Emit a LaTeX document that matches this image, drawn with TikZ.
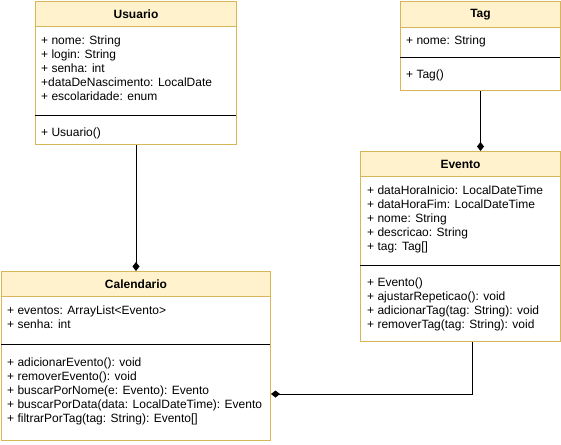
\documentclass[tikz,border=0pt]{standalone}
\usepackage{fontspec}
\setmainfont{Liberation Sans}
\usepackage{tikz}
\usetikzlibrary{arrows.meta,positioning}
\definecolor{classfill}{HTML}{FFF2CC}
\definecolor{classline}{HTML}{D6B656}
\tikzset{classbox/.style={draw=classline, fill=white, line width=1pt, rectangle, inner sep=0pt, anchor=north west},
         classhead/.style={classbox, fill=classfill, font=\bfseries\fontsize{12}{14}\selectfont},
         members/.style={anchor=north west, inner sep=0pt, align=left, font=\fontsize{12}{14}\selectfont},
         divider/.style={line width=1pt, black},
         edge/.style={line width=1pt, black, -{Diamond[length=9pt,width=7pt]}}}

\begin{document}
\begin{tikzpicture}[x=1pt, y=-1pt]
\useasboundingbox (0,0) rectangle (561,444);

                % Usuario
                \begin{scope}[shift={(35,1)}]
                \node [classbox, minimum width=201, minimum height=143] (usuario) at (0,0) {};
                \node [classhead, minimum width=201, minimum height=25] (usuariohead) at (0,0) {Usuario};
                \node [members] (usuarioattr) at (6,35) {+ nome: String\\+ login: String\\+ senha: int\\+dataDeNascimento: LocalDate\\+ escolaridade: enum};
                \draw [divider] (0,114) -- (201,114);
                \node [members] (usuariometh) at (6,127) {+ Usuario()};
                \end{scope}

                % Tag
                \begin{scope}[shift={(400,1)}]
                \node [classbox, minimum width=160, minimum height=89] (tag) at (0,0) {};
                \node [classhead, minimum width=160, minimum height=26] (taghead) at (0,0) {Tag};
                \node [members] (tagattr) at (6,35) {+ nome: String};
                \draw [divider] (0,56) -- (160,56);
                \node [members] (tagmeth) at (6,69) {+ Tag()};
                \end{scope}

                % Evento
                \begin{scope}[shift={(360,151)}]
                \node [classbox, minimum width=200, minimum height=190] (evento) at (0,0) {};
                \node [classhead, minimum width=200, minimum height=25] (eventohead) at (0,0) {Evento};
                \node [members] (eventoattr) at (7,35) {+ dataHoraInicio: LocalDateTime\\+ dataHoraFim: LocalDateTime\\+ nome: String\\+ descricao: String\\+ tag: Tag[]};
                \draw [divider] (0,114) -- (200,114);
                \node [members] (eventometh) at (7,127) {+ Evento()\\+ ajustarRepeticao(): void\\+ adicionarTag(tag: String): void\\+ removerTag(tag: String): void};
                \end{scope}

                % Calendario
                \begin{scope}[shift={(1,271)}]
                \node [classbox, minimum width=269, minimum height=169] (calendario) at (0,0) {};
                \node [classhead, minimum width=269, minimum height=25] (calendariohead) at (0,0) {Calendario};
                \node [members] (calendarioattr) at (6,35) {+ eventos: ArrayList<Evento>\\+ senha: int};
                \draw [divider] (0,73) -- (269,73);
                \node [members] (calendariometh) at (6,87) {+ adicionarEvento(): void\\+ removerEvento(): void\\+ buscarPorNome(e: Evento): Evento\\+ buscarPorData(data: LocalDateTime): Evento\\+ filtrarPorTag(tag: String): Evento[]};
                \end{scope}

                \coordinate (bend) at (472,394);
                \draw [edge] (usuario.south) -- (usuario.south |- calendario.north);
                \draw [edge] (tag.south) -- (tag.south |- evento.north);
                \draw [edge] (evento.south -| bend) |- (calendario.east |- bend);

\end{tikzpicture}
\end{document}
